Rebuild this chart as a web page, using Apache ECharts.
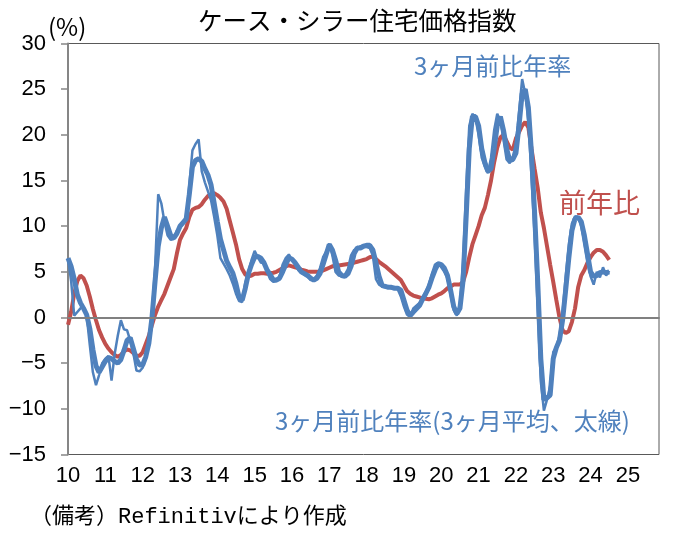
<!DOCTYPE html>
<html>
<head>
<meta charset="utf-8">
<script src="https://cdn.jsdelivr.net/npm/echarts@6/dist/echarts.min.js"></script>
<style>
  html, body { margin: 0; padding: 0; background: #fff; }
  #chart { width: 683px; height: 545px; }
</style>
</head>
<body>
<div id="chart"></div>
<script>
// monthly, Jan 2010 - Jul 2024
const yoy = [
  -0.8, 0.6, 2.6, 4.0, 4.6, 4.3, 3.5, 2.3, 0.9, -0.3, -1.4, -2.2, // 2010
  -2.9, -3.4, -3.8, -4.1, -4.3, -4.1, -3.7, -3.5, -3.6, -3.9, -4.2, -4.2, // 2011
  -3.8, -2.9, -2.0, -0.8, 0.3, 1.2, 1.9, 2.6, 3.5, 4.4, 5.3, 7.0, // 2012
  8.5, 9.2, 9.8, 11.0, 11.8, 12.0, 12.1, 12.4, 12.9, 13.3, 13.5, 13.6, // 2013
  13.4, 13.1, 12.7, 11.9, 10.6, 9.3, 8.0, 6.4, 5.3, 4.7, 4.5, 4.6, // 2014
  4.8, 4.8, 4.85, 4.85, 4.8, 4.85, 4.9, 5.0, 5.2, 5.4, 5.6, 5.7, // 2015
  5.6, 5.5, 5.4, 5.25, 5.15, 5.05, 5.0, 5.0, 5.0, 5.05, 5.15, 5.3, // 2016
  5.45, 5.6, 5.65, 5.7, 5.75, 5.8, 5.85, 5.95, 6.0, 6.1, 6.2, 6.3, // 2017
  6.4, 6.6, 6.7, 6.4, 6.1, 5.85, 5.6, 5.3, 5.0, 4.7, 4.4, 4.1, // 2018
  3.5, 2.9, 2.6, 2.4, 2.3, 2.2, 2.1, 2.05, 2.0, 2.1, 2.3, 2.5, // 2019
  2.65, 2.9, 3.2, 3.4, 3.6, 3.6, 3.6, 3.9, 5.0, 6.6, 8.0, 9.0, // 2020
  10.0, 11.2, 12.0, 13.4, 15.0, 17.0, 18.6, 19.7, 20.0, 19.3, 18.6, 18.4, // 2021
  19.6, 20.3, 21.0, 21.4, 20.8, 18.5, 16.3, 14.2, 11.5, 9.8, 7.8, 5.8, // 2022
  3.9, 1.9, 0.0, -1.4, -1.7, -1.5, -0.5, 1.0, 3.3, 4.6, 5.2, 6.0, // 2023
  6.6, 7.1, 7.4, 7.4, 7.2, 6.8, 6.3 // 2024
];

const ann3m = [
  6.5, 4.0, 0.2, 0.6, 1.0, 1.2, 0.2, -3.0, -6.0, -7.4, -6.3, -5.0,
  -4.5, -4.2, -6.9, -4.0, -2.0, -0.3, -1.3, -1.4, -2.5, -3.9, -5.8, -5.9,
  -5.5, -4.5, -2.5, 0.5, 5.5, 13.5, 12.5, 10.5, 9.0, 8.5, 8.6, 9.5,
  9.8, 10.3, 10.8, 14.5, 18.3, 19.0, 19.5, 16.0, 14.8, 13.8, 12.8, 11.0,
  9.0, 6.5, 5.9, 5.3, 4.6, 3.7, 2.6, 1.8, 1.7, 3.8, 5.0, 6.3,
  7.3, 6.6, 6.0, 6.0, 5.0, 4.2, 3.9, 4.0, 4.5, 5.8, 6.5, 6.9,
  6.3, 5.8, 5.2, 4.9, 4.7, 4.5, 4.1, 4.2, 4.6, 5.4, 6.6, 7.2,
  8.1, 6.8, 5.0, 4.6, 4.5, 4.7, 5.3, 6.8, 7.4, 7.5, 7.8, 7.9,
  7.7, 7.6, 6.8, 4.2, 3.6, 3.4, 3.3, 3.3, 3.2, 3.2, 3.1, 2.3,
  1.2, 0.3, 0.1, 1.0, 1.3, 1.6, 2.2, 2.8, 3.6, 4.8, 5.8, 6.0,
  5.5, 5.0, 4.3, 2.5, 0.8, 0.2, 1.5, 6.0, 14.0, 21.0, 22.3, 21.8,
  20.0, 17.5, 16.5, 15.8, 17.5, 20.5, 22.3, 21.5, 19.5, 17.3, 16.9, 17.6,
  19.0, 22.5, 26.1, 24.5, 21.5, 15.5, 9.0, 1.0, -7.0, -10.2, -9.0, -7.5,
  -3.8, -3.2, -2.0, 0.5, 4.5, 8.0, 10.3, 11.1, 10.9, 10.0, 8.0, 6.0,
  4.5, 3.6, 5.0, 4.4, 5.5, 4.6, 5.1
];

// 3ヶ月平均 (太線)
const ann3mAvg = [
  6.5, 5.6, 4.2, 2.5, 1.6, 1.0, 0.3, -1.2, -3.5, -5.3, -6.0, -5.4,
  -4.8, -4.4, -4.5, -4.8, -5.0, -4.6, -3.6, -2.5, -2.2, -3.4, -4.6, -5.2,
  -5.2, -4.3, -2.8, 0.0, 4.0, 7.8, 9.8, 11.0, 10.0, 9.0, 8.7, 9.2,
  10.0, 10.4, 10.8, 13.5, 16.5, 17.2, 17.4, 17.1, 16.3, 15.6, 14.5, 12.5,
  10.5, 8.6, 7.4, 6.2, 5.5, 4.85, 3.7, 2.2, 1.9, 3.2, 4.8, 5.8,
  6.6, 6.7, 6.5, 6.0, 5.2, 4.7, 4.1, 4.1, 4.3, 5.0, 5.8, 6.5,
  6.4, 6.0, 5.5, 5.0, 4.8, 4.6, 4.3, 4.1, 4.3, 4.8, 5.8, 6.9,
  8.0, 7.4, 6.3, 5.0, 4.6, 4.5, 4.8, 5.6, 7.0, 7.6, 7.6, 7.8,
  7.9, 7.9, 7.4, 6.0, 4.5, 3.5, 3.4, 3.3, 3.3, 3.2, 3.2, 3.0,
  1.9, 0.8, 0.2, 0.6, 0.95, 1.3, 2.0, 2.6, 3.3, 4.3, 5.2, 5.9,
  5.8, 5.4, 4.6, 3.0, 1.2, 0.4, 1.0, 4.0, 11.0, 18.5, 22.0, 22.0,
  21.0, 18.5, 17.0, 16.0, 16.3, 18.5, 21.0, 22.0, 20.5, 18.5, 17.2, 17.3,
  18.0, 21.0, 24.5, 25.0, 23.0, 18.0, 11.5, 4.0, -4.5, -9.0, -8.8, -8.5,
  -4.5, -3.3, -2.5, -0.3, 3.0, 6.5, 9.5, 10.8, 11.0, 10.5, 9.0, 7.0,
  5.0, 4.5, 4.6, 4.9, 5.0, 4.9, 5.0
];

// axis runs Jan 2010 .. Nov 2025
const months = [];
for (let y = 2010; y <= 2025; y++) {
  for (let m = 1; m <= 12; m++) {
    if (y === 2025 && m > 11) break;
    months.push(y + '-' + (m < 10 ? '0' + m : m));
  }
}

const BLUE = '#4F81BD';
const RED = '#C0504D';
const JP = "'Noto Sans CJK JP', sans-serif";
const NUM = "'Liberation Sans Narrow', 'Liberation Sans', sans-serif";

const chart = echarts.init(document.getElementById('chart'));
chart.setOption({
  animation: false,
  backgroundColor: '#fff',
  grid: {
    left: 68, right: 24, top: 43.5, bottom: 90.5,
    show: true, borderColor: '#595959', borderWidth: 1
  },
  xAxis: {
    type: 'category',
    data: months,
    boundaryGap: false,
    axisLine: { lineStyle: { color: '#666', width: 1.5 } },
    axisTick: { show: false },
    axisLabel: {
      interval: (i, v) => v.slice(5) === '01',
      formatter: v => v.slice(2, 4),
      fontFamily: NUM, fontSize: 22, color: '#000', margin: 10
    },
    splitLine: { show: false }
  },
  yAxis: {
    type: 'value',
    min: -15, max: 30, interval: 5,
    axisLine: { show: true, lineStyle: { color: '#868686', width: 2 } },
    axisTick: { show: true, length: 7, lineStyle: { color: '#868686', width: 1.5 } },
    axisLabel: {
      formatter: v => (v < 0 ? '\u2212' + Math.abs(v) : String(v)),
      fontFamily: NUM, fontSize: 22, color: '#000', margin: 22
    },
    splitLine: { show: false }
  },
  series: [
    {
      name: '前年比',
      type: 'line',
      data: yoy,
      symbol: 'none',
      lineStyle: { color: RED, width: 4 },
      markLine: {
        silent: true,
        symbol: ['none', 'none'],
        label: { show: false },
        lineStyle: { color: '#808080', width: 2, type: 'solid' },
        data: [{ yAxis: 0 }]
      },
      z: 2
    },
    {
      name: '3ヶ月前比年率',
      type: 'line',
      data: ann3m,
      symbol: 'none',
      lineStyle: { color: BLUE, width: 2.5 },
      z: 3
    },
    {
      name: '3ヶ月前比年率(3ヶ月平均)',
      type: 'line',
      data: ann3mAvg,
      symbol: 'none',
      lineStyle: { color: BLUE, width: 5 },
      z: 4
    }
  ],
  graphic: [
    {
      type: 'text', left: 198, top: 8,
      style: { text: 'ケース・シラー住宅価格指数', font: '24.5px ' + JP, fill: '#000' }
    },
    {
      type: 'text', left: 48, top: 15,
      style: { text: '(%)', font: '24px ' + JP, fill: '#000' }
    },
    {
      type: 'text', left: 414, top: 54,
      style: { text: '3ヶ月前比年率', font: '24px ' + JP, fill: BLUE }
    },
    {
      type: 'text', left: 559, top: 189,
      style: { text: '前年比', font: '27px ' + JP, fill: RED }
    },
    {
      type: 'text', left: 275, top: 409,
      style: { text: '3ヶ月前比年率(3ヶ月平均、太線)', font: '24px ' + JP, fill: BLUE }
    },
    {
      type: 'text', left: 30, top: 506,
      style: { text: '（備考）Refinitivにより作成', font: "22px 'Liberation Mono', 'Noto Sans CJK JP', monospace", fill: '#000' }
    }
  ]
});
</script>
</body>
</html>
